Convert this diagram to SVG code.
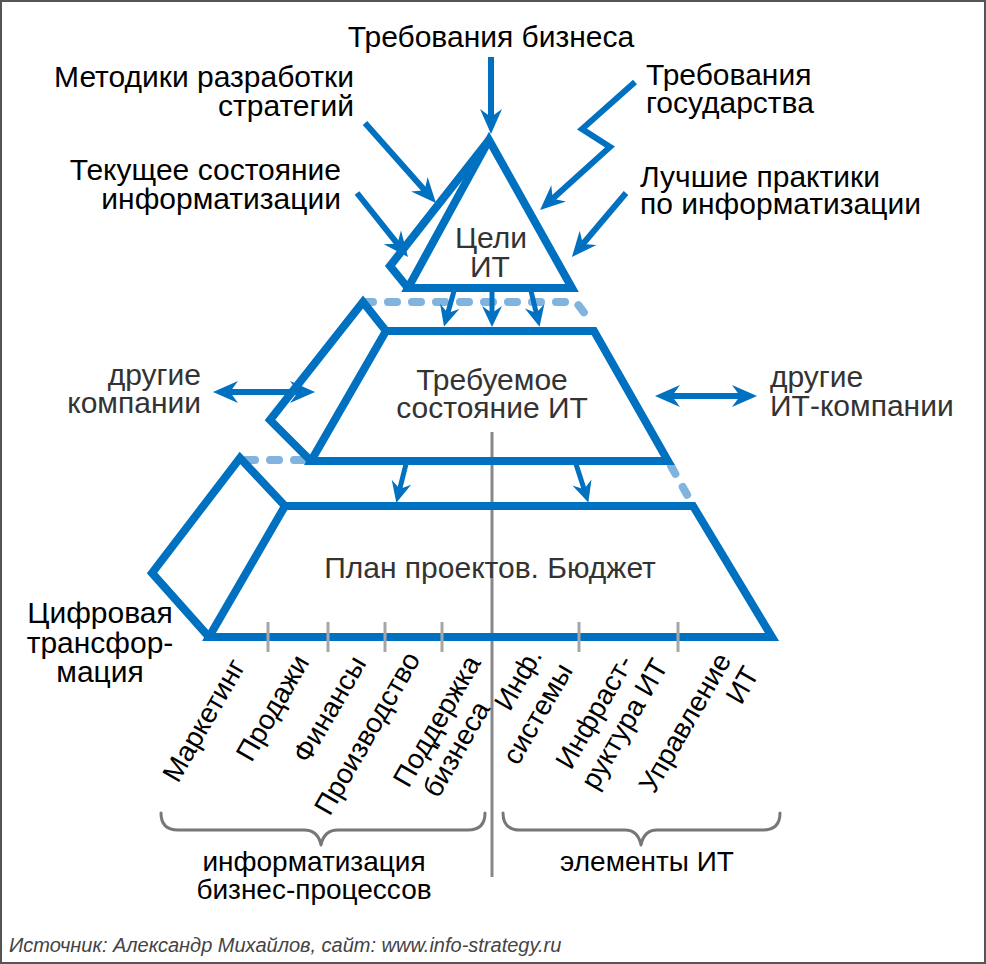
<svg xmlns="http://www.w3.org/2000/svg" width="986" height="964" viewBox="0 0 986 964">
<defs>
<style>
.sh{fill:none;stroke:#0070C0;stroke-width:8;stroke-linejoin:miter;stroke-miterlimit:10}
.face{fill:none;stroke:#0070C0;stroke-width:8;stroke-linejoin:miter;stroke-miterlimit:10}
.dash{fill:none;stroke:#80B3DE;stroke-width:8;stroke-linecap:round;stroke-linejoin:round;stroke-dasharray:9 15}
.ar{fill:none;stroke:#0070C0;stroke-width:6;stroke-linejoin:miter;marker-end:url(#ah)}
.ar2{fill:none;stroke:#0070C0;stroke-width:6;marker-start:url(#ah);marker-end:url(#ah)}
.ars{fill:none;stroke:#0070C0;stroke-width:5;marker-end:url(#ahs)}
.t{font-family:"Liberation Sans",Arial,sans-serif;font-size:30px;fill:#000}
.g{font-family:"Liberation Sans",Arial,sans-serif;font-size:30px;fill:#333}
.r{font-family:"Liberation Sans",Arial,sans-serif;font-size:28px;fill:#000}
.b{font-family:"Liberation Sans",Arial,sans-serif;font-size:28px;fill:#000}
.tick{stroke:#A6A6A6;stroke-width:3}
.brace{fill:none;stroke:#777;stroke-width:3;stroke-linecap:round;stroke-linejoin:round}
</style>
<marker id="ah" viewBox="-26 -12 27 24" refX="-12" refY="0" markerWidth="27" markerHeight="24" markerUnits="userSpaceOnUse" orient="auto-start-reverse">
<path d="M0,0 L-25,-11 L-17,0 L-25,11 Z" fill="#0070C0"/>
</marker>
<marker id="ahs" viewBox="-22 -11 23 22" refX="-11" refY="0" markerWidth="23" markerHeight="22" markerUnits="userSpaceOnUse" orient="auto">
<path d="M0,0 L-21,-10 L-14,0 L-21,10 Z" fill="#0070C0"/>
</marker>
</defs>
<rect x="1" y="1" width="984" height="962" fill="#fff" stroke="#555" stroke-width="2"/>

<g id="hidden-edges">
<polyline class="dash" points="364,302 576,302 592,323"/>
<polyline class="dash" points="246,460 305,460"/>
<polyline class="dash" points="671,466 690,500"/>
</g>

<line x1="492" y1="432" x2="492" y2="877" stroke="#888" stroke-width="3"/>

<g id="node-goals">
<polyline class="face" points="489,140 390,266 408,288"/>
<polygon class="sh" points="489,140 572,288 408,288"/>
<text class="g" text-anchor="middle"><tspan x="491" y="248">Цели</tspan><tspan x="490" y="277">ИТ</tspan></text>
</g>

<g id="node-required">
<polyline class="face" points="386,331 363,302 270,420 311,461"/>
<polygon class="sh" points="386,331 594,331 668,461 311,461"/>
<text class="g" text-anchor="middle"><tspan x="492" y="390">Требуемое</tspan><tspan x="492" y="418">состояние ИТ</tspan></text>
</g>

<g id="node-plan">
<polyline class="face" points="285,506 240,458 152,573 209,637"/>
<polygon class="sh" points="285,506 693,506 772,637 209,637"/>
<text class="g" text-anchor="middle" x="490" y="578">План проектов. Бюджет</text>
</g>

<g id="ticks">
<line class="tick" x1="268" y1="622" x2="268" y2="652"/>
<line class="tick" x1="328" y1="622" x2="328" y2="652"/>
<line class="tick" x1="385" y1="622" x2="385" y2="652"/>
<line class="tick" x1="442" y1="622" x2="442" y2="652"/>
<line class="tick" x1="579" y1="622" x2="579" y2="652"/>
<line class="tick" x1="678" y1="622" x2="678" y2="652"/>
</g>

<g id="connectors">
<line class="ar" x1="491" y1="57" x2="491" y2="122"/>
<line class="ar" x1="365" y1="123" x2="428" y2="194"/>
<line class="ar" x1="357" y1="193" x2="400.5" y2="247.6"/>
<polyline class="ar" points="635,82 582,129 610,147 549,202"/>
<line class="ar" x1="626" y1="193" x2="579.7" y2="247.8"/>
<line class="ars" x1="454" y1="291" x2="447" y2="316"/>
<line class="ars" x1="492" y1="291" x2="492" y2="316"/>
<line class="ars" x1="531" y1="291" x2="537" y2="316"/>
<line class="ars" x1="406" y1="464" x2="399" y2="492"/>
<line class="ars" x1="576" y1="464" x2="585" y2="492"/>
<line class="ar2" x1="225" y1="392" x2="303" y2="392"/>
<line class="ar2" x1="667" y1="396" x2="745" y2="396"/>
</g>

<g id="labels-top">
<text class="t" text-anchor="middle" x="491" y="47">Требования бизнеса</text>
<text class="t" text-anchor="end"><tspan x="354" y="87">Методики разработки</tspan><tspan x="354" y="116">стратегий</tspan></text>
<text class="t" text-anchor="end"><tspan x="341" y="180">Текущее состояние</tspan><tspan x="341" y="209">информатизации</tspan></text>
<text class="t"><tspan x="646" y="85">Требования</tspan><tspan x="646" y="113">государства</tspan></text>
<text class="t"><tspan x="640" y="187">Лучшие практики</tspan><tspan x="640" y="214">по информатизации</tspan></text>
</g>

<g id="labels-side">
<text class="g" text-anchor="end"><tspan x="201" y="385">другие</tspan><tspan x="201" y="413">компании</tspan></text>
<text class="g"><tspan x="770" y="387">другие</tspan><tspan x="770" y="416">ИТ-компании</tspan></text>
<text class="t" text-anchor="middle"><tspan x="100" y="623">Цифровая</tspan><tspan x="100" y="653">трансфор-</tspan><tspan x="100" y="682">мация</tspan></text>
</g>

<g id="labels-rotated">
<text class="r" text-anchor="end" transform="translate(246,666) rotate(-60)">Маркетинг</text>
<text class="r" text-anchor="end" transform="translate(310,662) rotate(-60)">Продажи</text>
<text class="r" text-anchor="end" transform="translate(367,663) rotate(-60)">Финансы</text>
<text class="r" text-anchor="end" transform="translate(421,659) rotate(-60)">Производство</text>
<text class="r" transform="translate(408.5,789) rotate(-60)"><tspan x="0" y="0">Поддержка</tspan><tspan x="6" y="31">бизнеса</tspan></text>
<text class="r" text-anchor="end" transform="translate(543,655) rotate(-60)"><tspan x="0" y="0">Инф.</tspan><tspan x="2" y="34">системы</tspan></text>
<text class="r" text-anchor="end" transform="translate(634,662) rotate(-60)"><tspan x="0" y="0">Инфраст-</tspan><tspan x="14" y="32">руктура ИТ</tspan></text>
<text class="r" text-anchor="end" transform="translate(732,660) rotate(-60)"><tspan x="0" y="0">Управление</tspan><tspan x="2" y="31">ИТ</tspan></text>
</g>

<g id="braces">
<path class="brace" d="M161,813 Q161,830 178,830 L304,830 Q318,830 321,845 Q324,830 338,830 L468,830 Q485,830 485,813"/>
<path class="brace" d="M503,813 Q503,830 520,830 L625,830 Q638,830 641,845 Q644,830 657,830 L763,830 Q780,830 780,813"/>
</g>

<g id="labels-bottom">
<text class="b" text-anchor="middle"><tspan x="314" y="871">информатизация</tspan><tspan x="314" y="899">бизнес-процессов</tspan></text>
<text class="b" text-anchor="middle" x="647" y="871">элементы ИТ</text>
<text x="9" y="952" font-family="Liberation Sans, Arial, sans-serif" font-size="20" font-style="italic" fill="#444">Источник: Александр Михайлов, сайт: www.info-strategy.ru</text>
</g>
</svg>
